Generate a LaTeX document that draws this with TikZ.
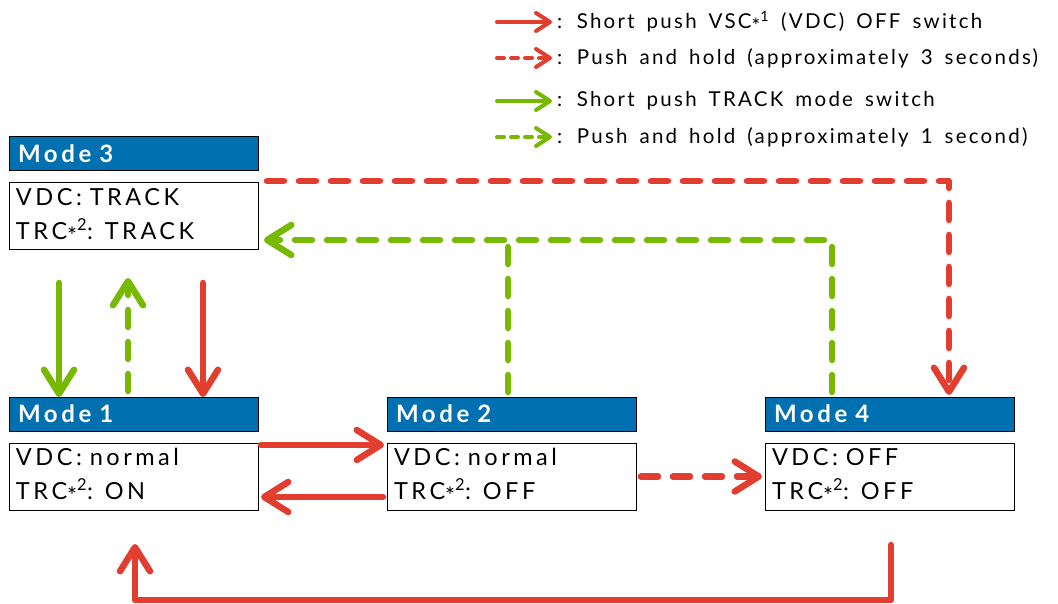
\documentclass[tikz,border=0pt]{standalone}
\usepackage{fontspec}
\setmainfont{Lato}
\newfontfamily\bodyfont[LetterSpace=15,WordSpace=1.5]{Lato}
\newfontfamily\hdrfont[LetterSpace=15,WordSpace=2.2]{Lato}
\newfontfamily\legfont[LetterSpace=11,WordSpace=1.6]{Lato}
\usetikzlibrary{arrows.meta}
\definecolor{hblue}{RGB}{0,112,176}
\definecolor{ared}{RGB}{226,62,47}
\definecolor{agreen}{RGB}{118,185,0}
\newcommand\myast{\raisebox{-0.22em}{*}}
\tikzset{
  hdr/.style={draw=black, line width=1pt, fill=hblue, text=white, anchor=north west,
    text width=231pt, inner xsep=9pt, inner ysep=0pt, minimum height=34pt, outer sep=0pt,
    align=left, font=\hdrfont\bfseries\fontsize{24}{24}\selectfont},
  body/.style={draw=black, line width=1pt, fill=white, anchor=north west,
    text width=235pt, inner xsep=7pt, inner ysep=0pt, minimum height=67pt, outer sep=0pt,
    align=left, font=\bodyfont\fontsize{23.5}{34}\selectfont},
  bigtip/.style={-{Straight Barb[length=24pt,width=30pt,line cap=round,line join=round]}},
  smalltip/.style={-{Straight Barb[length=14pt,width=18pt,line cap=round,line join=round]}},
  redarr/.style={draw=ared, line width=6.5pt, line cap=round, line join=round},
  greenarr/.style={draw=agreen, line width=6.5pt, line cap=round, line join=round},
  dashedarr/.style={dash pattern=on 17pt off 15pt},
  legtext/.style={anchor=west, inner sep=0pt, font=\legfont\fontsize{20.5}{20.5}\selectfont},
}
\begin{document}
\begin{tikzpicture}[x=1pt,y=-1pt]
\useasboundingbox (0,0) rectangle (1058,604);
% legend
\coordinate (l1a) at (497,22);  \coordinate (l1b) at (552,22);
\coordinate (l2a) at (497,58);  \coordinate (l2b) at (552,58);
\coordinate (l3a) at (497,101); \coordinate (l3b) at (552,101);
\coordinate (l4a) at (497,137); \coordinate (l4b) at (552,137);
\draw[redarr, line width=4pt, smalltip] (l1a) -- (l1b);
\draw[redarr, line width=4pt, smalltip, dash pattern=on 7pt off 7pt] (l2a) -- (l2b);
\draw[greenarr, line width=4pt, smalltip] (l3a) -- (l3b);
\draw[greenarr, line width=4pt, smalltip, dash pattern=on 7pt off 7pt] (l4a) -- (l4b);
\node[legtext] (t1) at (557,22) {: Short push VSC\myast\textsuperscript{1} (VDC) OFF switch};
\node[legtext] (t2) at (557,58) {: Push and hold (approximately 3 seconds)};
\node[legtext] (t3) at (557,101) {: Short push TRACK mode switch};
\node[legtext] (t4) at (557,137) {: Push and hold (approximately 1 second)};
% modes
\node[hdr] (h3) at (9,137) {Mode 3};
\node[body] (b3) at (9,183) {VDC: TRACK\\TRC\myast\textsuperscript{2}: TRACK};
\node[hdr] (h1) at (9,397) {Mode 1};
\node[body] (b1) at (9,443) {VDC: normal\\TRC\myast\textsuperscript{2}: ON};
\node[hdr] (h2) at (387,397) {Mode 2};
\node[body] (b2) at (387,443) {VDC: normal\\TRC\myast\textsuperscript{2}: OFF};
\node[hdr] (h4) at (765,397) {Mode 4};
\node[body] (b4) at (765,443) {VDC: OFF\\TRC\myast\textsuperscript{2}: OFF};
% mode 3 <-> mode 1
\draw[greenarr, bigtip] ([shift={(50,-114)}]h1.north west) -- ([shift={(50,0)}]h1.north west);
\draw[greenarr, bigtip, dashedarr] ([shift={(119,-6)}]h1.north west) -- ([shift={(119,-119)}]h1.north west);
\draw[redarr, bigtip] ([shift={(194,-114)}]h1.north west) -- ([shift={(194,0)}]h1.north west);
% mode 1 <-> mode 2
\draw[redarr, bigtip] ([shift={(3,2)}]b1.north east) -- ([shift={(-3,2)}]b2.north west);
\draw[redarr, bigtip] ([shift={(-4,-13)}]b2.south west) -- ([shift={(3,-13)}]b1.south east);
% mode 2 -> mode 4
\draw[redarr, bigtip, dashedarr] ([shift={(5,0)}]b2.east) -- ([shift={(-3,0)}]b4.west);
% mode 3 -> mode 4
\draw[redarr, bigtip, dashedarr] ([shift={(9,-2)}]b3.north east) -| ([shift={(184,-2)}]h4.north west);
% mode 2 / mode 4 -> mode 3
\coordinate (gj) at ([shift={(0,-10)}]b3.south east);
\draw[greenarr, bigtip, dashedarr] ([shift={(67,-5)}]h4.north west) |- ([shift={(6,0)}]gj);
\draw[greenarr, dashedarr] ([shift={(121,-5)}]h2.north west) -- ([shift={(121,-158)}]h2.north west);
% mode 4 -> mode 1
\coordinate (bl) at (135,600);
\draw[redarr, bigtip] ([shift={(126,35)}]b4.south west) |- (bl) -- ([shift={(126,34)}]b1.south west);
\end{tikzpicture}
\end{document}
